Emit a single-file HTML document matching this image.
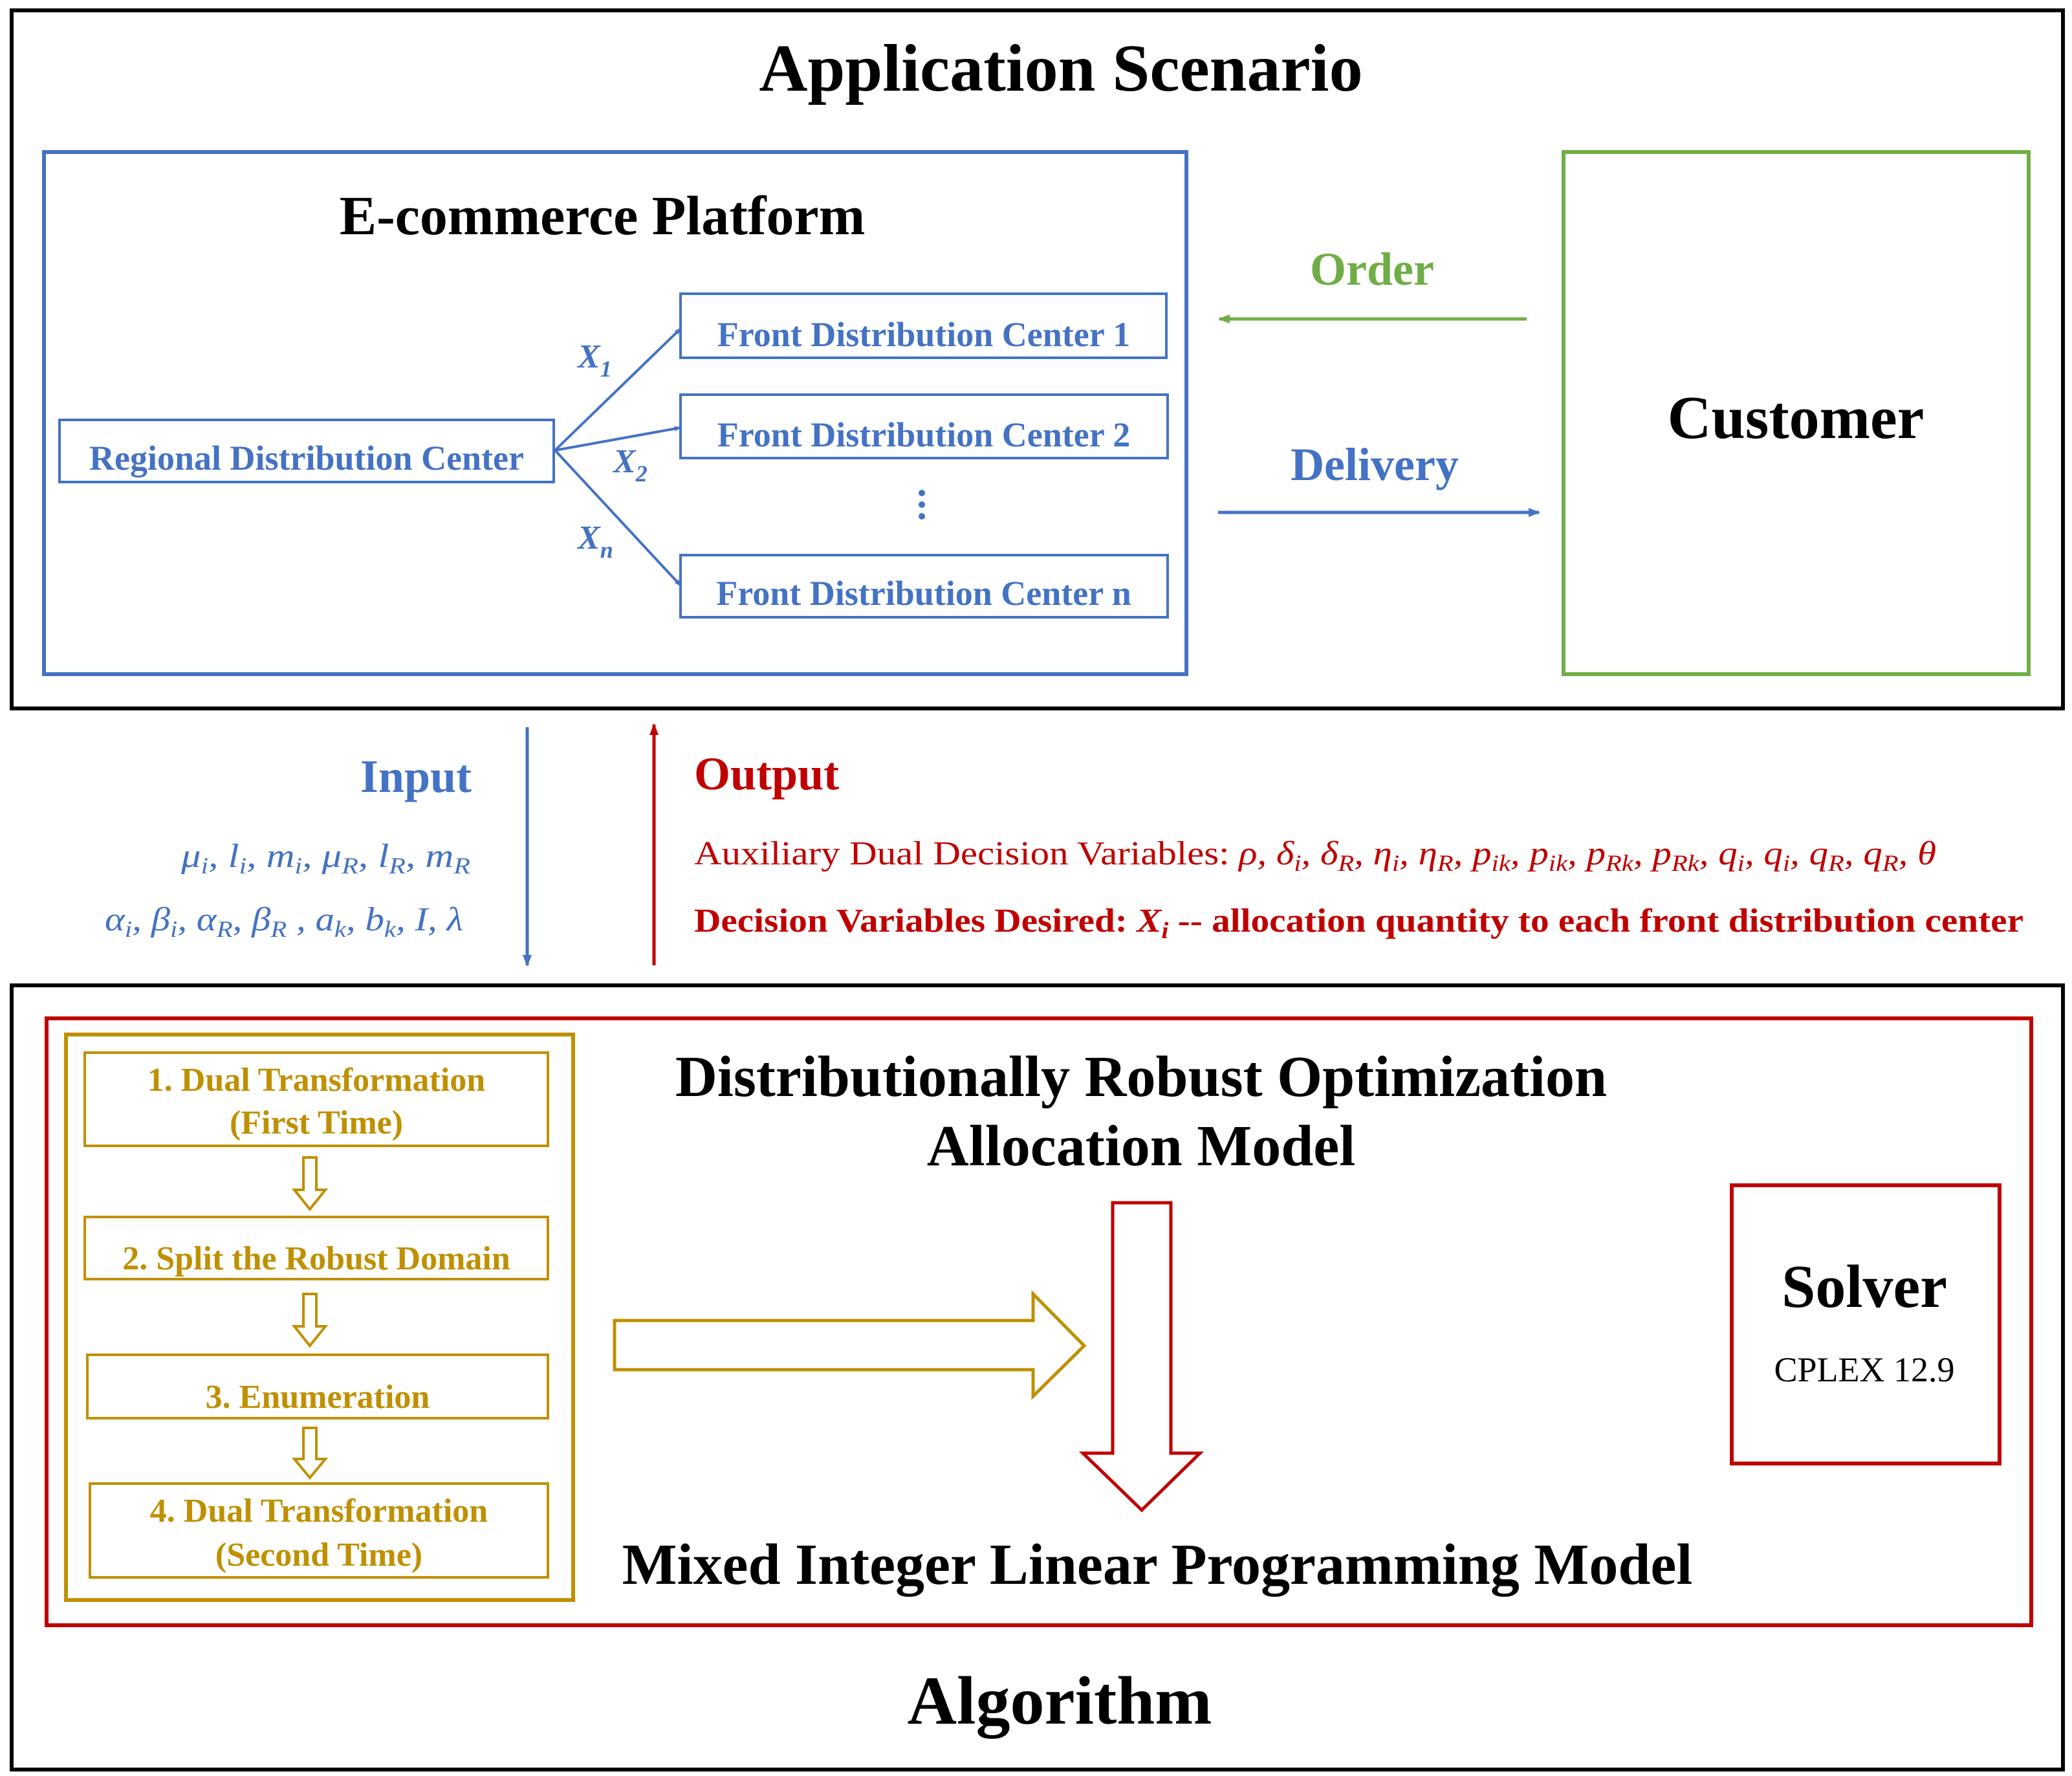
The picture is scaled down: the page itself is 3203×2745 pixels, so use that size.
<!DOCTYPE html>
<html><head><meta charset="utf-8"><style>
html,body{margin:0;padding:0;background:#fff;}
svg{display:block;}
text{font-family:"Liberation Serif",serif;}
</style></head><body>
<svg width="3203" height="2745" viewBox="0 0 3203 2745" xmlns="http://www.w3.org/2000/svg">
<defs>
<marker id="ab" markerWidth="10" markerHeight="10" refX="9" refY="5" orient="auto" markerUnits="userSpaceOnUse" viewBox="0 0 10 10"><path d="M0,1 L10,5 L0,9 z" fill="#4472C4"/></marker>
<marker id="ab2" markerWidth="18" markerHeight="18" refX="16" refY="9" orient="auto" markerUnits="userSpaceOnUse" viewBox="0 0 18 18"><path d="M0,2 L18,9 L0,16 z" fill="#4472C4"/></marker>
<marker id="ag" markerWidth="18" markerHeight="18" refX="16" refY="9" orient="auto" markerUnits="userSpaceOnUse" viewBox="0 0 18 18"><path d="M0,2 L18,9 L0,16 z" fill="#70AD47"/></marker>
<marker id="ar" markerWidth="18" markerHeight="18" refX="16" refY="9" orient="auto" markerUnits="userSpaceOnUse" viewBox="0 0 18 18"><path d="M0,2 L18,9 L0,16 z" fill="#C00000"/></marker>
</defs>
<rect width="3203" height="2745" fill="#fff"/>
<rect x="18" y="16" width="3171" height="1079" fill="none" stroke="#000" stroke-width="6"/>
<text x="1640" y="140" font-size="104" font-weight="bold" text-anchor="middle">Application Scenario</text>
<rect x="68" y="235" width="1766" height="807" fill="none" stroke="#4472C4" stroke-width="6"/>
<text x="931" y="362" font-size="86" font-weight="bold" text-anchor="middle">E-commerce Platform</text>
<g fill="none" stroke="#4472C4" stroke-width="4">
<rect x="92" y="649" width="764" height="96"/>
<rect x="1052" y="454" width="751" height="99"/>
<rect x="1052" y="610" width="753" height="98"/>
<rect x="1052" y="858" width="753" height="96"/>
<line x1="858" y1="696" x2="1052" y2="508" marker-end="url(#ab)"/>
<line x1="858" y1="696" x2="1052" y2="661" marker-end="url(#ab)"/>
<line x1="858" y1="696" x2="1052" y2="905" marker-end="url(#ab)"/>
</g>
<g fill="#4472C4" font-weight="bold" font-size="54">
<text x="474" y="726" text-anchor="middle">Regional Distribution Center</text>
<text x="1428" y="535" text-anchor="middle">Front Distribution Center 1</text>
<text x="1428" y="690" text-anchor="middle">Front Distribution Center 2</text>
<text x="1428" y="935" text-anchor="middle">Front Distribution Center n</text>
<text x="893" y="568" font-style="italic" font-size="52">X<tspan font-size="36" dy="14">1</tspan></text>
<text x="948" y="730" font-style="italic" font-size="52">X<tspan font-size="36" dy="14">2</tspan></text>
<text x="893" y="848" font-style="italic" font-size="52">X<tspan font-size="36" dy="14">n</tspan></text>
</g>
<g fill="#4472C4"><circle cx="1425" cy="762" r="5"/><circle cx="1425" cy="780" r="5"/><circle cx="1425" cy="798" r="5"/></g>
<rect x="2417" y="235" width="719" height="807" fill="none" stroke="#70AD47" stroke-width="6"/>
<text x="2776" y="677" font-size="94" font-weight="bold" text-anchor="middle">Customer</text>
<text x="2121" y="440" font-size="72" font-weight="bold" fill="#70AD47" text-anchor="middle">Order</text>
<line x1="2360" y1="493" x2="1885" y2="493" stroke="#70AD47" stroke-width="5" marker-end="url(#ag)"/>
<text x="2125" y="742" font-size="72" font-weight="bold" fill="#4472C4" text-anchor="middle">Delivery</text>
<line x1="1883" y1="792" x2="2379" y2="792" stroke="#4472C4" stroke-width="5" marker-end="url(#ab2)"/>
<line x1="815" y1="1124" x2="815" y2="1492" stroke="#4472C4" stroke-width="5" marker-end="url(#ab2)"/>
<line x1="1011" y1="1492" x2="1011" y2="1120" stroke="#C00000" stroke-width="5" marker-end="url(#ar)"/>
<text x="729" y="1224" font-size="72" font-weight="bold" fill="#4472C4" text-anchor="end">Input</text>
<text x="1073" y="1220" font-size="72" font-weight="bold" fill="#C00000">Output</text>
<g fill="#4472C4" font-style="italic" font-size="52">
<text x="280" y="1340" textLength="447" lengthAdjust="spacingAndGlyphs">μ<tspan font-size="36" dy="10">i</tspan><tspan dy="-10">, l</tspan><tspan font-size="36" dy="10">i</tspan><tspan dy="-10">, m</tspan><tspan font-size="36" dy="10">i</tspan><tspan dy="-10">, μ</tspan><tspan font-size="36" dy="10">R</tspan><tspan dy="-10">, l</tspan><tspan font-size="36" dy="10">R</tspan><tspan dy="-10">, m</tspan><tspan font-size="36" dy="10">R</tspan></text>
<text x="162" y="1438" textLength="554" lengthAdjust="spacingAndGlyphs">α<tspan font-size="36" dy="10">i</tspan><tspan dy="-10">, β</tspan><tspan font-size="36" dy="10">i</tspan><tspan dy="-10">, α</tspan><tspan font-size="36" dy="10">R</tspan><tspan dy="-10">, β</tspan><tspan font-size="36" dy="10">R</tspan><tspan dy="-10"> , a</tspan><tspan font-size="36" dy="10">k</tspan><tspan dy="-10">, b</tspan><tspan font-size="36" dy="10">k</tspan><tspan dy="-10">, I, λ</tspan></text>
</g>
<g fill="#C00000" font-size="52">
<text x="1073" y="1336" textLength="1920" lengthAdjust="spacingAndGlyphs">Auxiliary Dual Decision Variables: <tspan font-style="italic">ρ, δ<tspan font-size="36" dy="10">i</tspan><tspan dy="-10">, δ</tspan><tspan font-size="36" dy="10">R</tspan><tspan dy="-10">, η</tspan><tspan font-size="36" dy="10">i</tspan><tspan dy="-10">, η</tspan><tspan font-size="36" dy="10">R</tspan><tspan dy="-10">, p</tspan><tspan font-size="36" dy="10">ik</tspan><tspan dy="-10">, p</tspan><tspan font-size="36" dy="10">ik</tspan><tspan dy="-10">, p</tspan><tspan font-size="36" dy="10">Rk</tspan><tspan dy="-10">, p</tspan><tspan font-size="36" dy="10">Rk</tspan><tspan dy="-10">, q</tspan><tspan font-size="36" dy="10">i</tspan><tspan dy="-10">, q</tspan><tspan font-size="36" dy="10">i</tspan><tspan dy="-10">, q</tspan><tspan font-size="36" dy="10">R</tspan><tspan dy="-10">, q</tspan><tspan font-size="36" dy="10">R</tspan><tspan dy="-10">, θ</tspan></tspan></text>
<text x="1073" y="1440" font-weight="bold" textLength="2055" lengthAdjust="spacingAndGlyphs">Decision Variables Desired: <tspan font-style="italic">X</tspan><tspan font-style="italic" font-size="36" dy="10">i</tspan><tspan dy="-10"> -- allocation quantity to each front distribution center</tspan></text>
</g>
<rect x="18" y="1523" width="3171" height="1212" fill="none" stroke="#000" stroke-width="6"/>
<rect x="72" y="1574" width="3068" height="938" fill="none" stroke="#C00000" stroke-width="6"/>
<rect x="102" y="1599" width="784" height="874" fill="none" stroke="#BF9000" stroke-width="6"/>
<g fill="none" stroke="#BF9000" stroke-width="4">
<rect x="131" y="1627" width="716" height="144"/>
<rect x="131" y="1881" width="716" height="96"/>
<rect x="135" y="2094" width="712" height="98"/>
<rect x="139" y="2293" width="708" height="145"/>
<path d="M469,1789 h20 v50 h14 l-24,30 l-24,-30 h14 z"/>
<path d="M469,2000 h20 v50 h14 l-24,30 l-24,-30 h14 z"/>
<path d="M469,2207 h20 v48 h14 l-24,29 l-24,-29 h14 z"/>
<path d="M950,2041 H1597 V2000 L1676,2080 L1597,2158 V2117 H950 z" stroke-width="5"/>
</g>
<g fill="#BF9000" font-weight="bold" font-size="52" text-anchor="middle">
<text x="489" y="1686">1. Dual Transformation</text>
<text x="489" y="1752">(First Time)</text>
<text x="489" y="1962">2. Split the Robust Domain</text>
<text x="491" y="2176">3. Enumeration</text>
<text x="493" y="2352">4. Dual Transformation</text>
<text x="493" y="2420">(Second Time)</text>
</g>
<path d="M1720,1859 H1810 V2246 H1855 L1765,2334 L1674,2246 H1720 z" fill="none" stroke="#C00000" stroke-width="5"/>
<g font-weight="bold" font-size="90" text-anchor="middle">
<text x="1764" y="1694">Distributionally Robust Optimization</text>
<text x="1764" y="1801">Allocation Model</text>
<text x="1789" y="2448">Mixed Integer Linear Programming Model</text>
<text x="1638" y="2664" font-size="106">Algorithm</text>
</g>
<rect x="2677" y="1832" width="414" height="430" fill="none" stroke="#C00000" stroke-width="6"/>
<text x="2882" y="2020" font-size="94" font-weight="bold" text-anchor="middle">Solver</text>
<text x="2882" y="2135" font-size="54" text-anchor="middle">CPLEX 12.9</text>
</svg>
</body></html>
